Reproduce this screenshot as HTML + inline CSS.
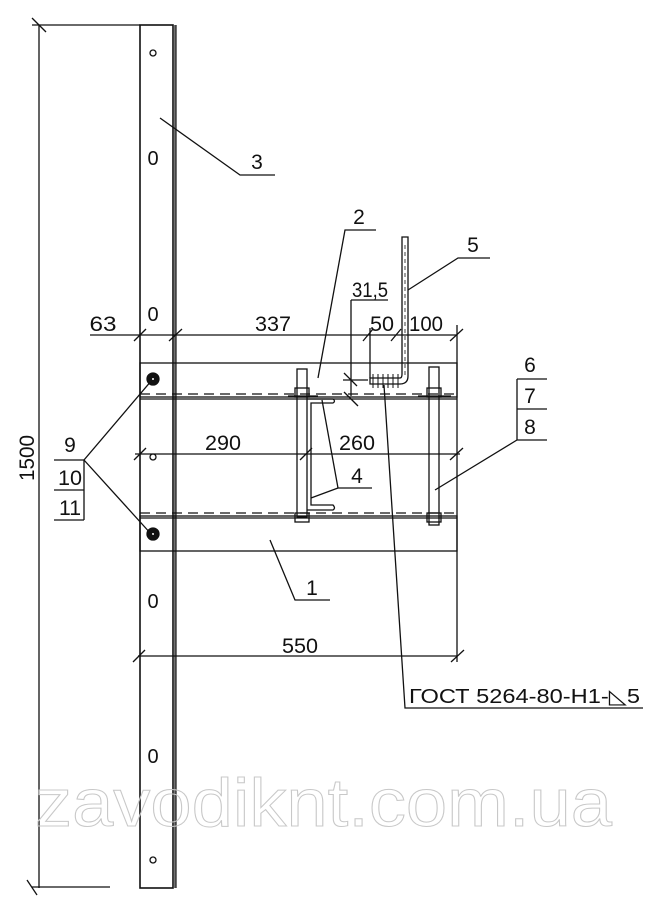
<!DOCTYPE html>
<html><head><meta charset="utf-8"><style>
html,body{margin:0;padding:0;background:#fff;}
svg{display:block;}
text{font-family:"Liberation Sans",sans-serif;fill:#111;}
</style></head><body>
<svg width="649" height="913" viewBox="0 0 649 913" xmlns="http://www.w3.org/2000/svg">
<g stroke="#111" stroke-width="1.3" fill="none">
<line x1="39" y1="25" x2="39" y2="888"/>
<line x1="32" y1="25" x2="140" y2="25"/>
<line x1="32" y1="887" x2="110" y2="887"/>
<line x1="32" y1="18" x2="46" y2="32"/>
<line x1="27" y1="880" x2="37" y2="895"/>
<rect x="140" y="25" width="33" height="863" stroke-width="1.6"/>
<line x1="175.5" y1="25" x2="175.5" y2="888" stroke-width="2.5" stroke="#444"/>
<circle cx="153" cy="53" r="3"/><circle cx="153" cy="457" r="3"/><circle cx="153" cy="860" r="3"/>
<rect x="140" y="363" width="317" height="34"/>
<line x1="140" y1="399" x2="457" y2="399"/>
<rect x="140" y="516" width="317" height="35"/>
<line x1="140" y1="518" x2="457" y2="518"/>
<g stroke-dasharray="10,6">
<line x1="140" y1="394" x2="457" y2="394"/>
<line x1="140" y1="513" x2="457" y2="513"/>
</g>
<circle cx="153" cy="379" r="6" fill="#111"/><circle cx="153" cy="534" r="6" fill="#111"/>
<circle cx="153" cy="379" r="1" fill="#fff" stroke="none"/><circle cx="153" cy="534" r="1" fill="#fff" stroke="none"/>
<rect x="297" y="369" width="10" height="148"/>
<rect x="295" y="388" width="14" height="9"/>
<rect x="295" y="513" width="14" height="9"/>
<line x1="288" y1="396" x2="318" y2="396"/>
<path d="M307 399 L333 399 Q336 401 333 403 L311 403 L311 505 L333 505 Q336 508 333 510 L307 510"/>
<rect x="429" y="367" width="10" height="158"/>
<rect x="427" y="388" width="14" height="9"/>
<rect x="427" y="513" width="14" height="9"/>
<line x1="418" y1="396" x2="451" y2="396"/>
<path d="M402 237 L408 237 L408 376 Q408 384 400 384 L370 384 L370 378 L400 378 Q402 378 402 374 Z"/>
<line x1="405" y1="245" x2="405" y2="375" stroke-dasharray="4,3" stroke-width="0.8"/>
<g stroke-width="1">
<line x1="373" y1="374" x2="373" y2="388"/><line x1="378" y1="374" x2="378" y2="388"/>
<line x1="383" y1="374" x2="383" y2="388"/><line x1="388" y1="374" x2="388" y2="388"/>
<line x1="393" y1="374" x2="393" y2="388"/><line x1="398" y1="374" x2="398" y2="388"/>
</g>
<line x1="90" y1="335" x2="457" y2="335"/>
<line x1="134" y1="341" x2="146" y2="329"/>
<line x1="169" y1="341" x2="182" y2="329"/>
<line x1="363" y1="341" x2="373" y2="329"/>
<line x1="391" y1="341" x2="401" y2="329"/>
<line x1="450" y1="341" x2="463" y2="329"/>
<line x1="370" y1="328" x2="370" y2="378"/>
<line x1="457" y1="325" x2="457" y2="662"/>
<line x1="351" y1="300" x2="388" y2="300"/>
<line x1="351" y1="300" x2="351" y2="396"/>
<line x1="343" y1="380" x2="368" y2="380"/>
<line x1="344" y1="373" x2="357" y2="386"/>
<line x1="344" y1="392" x2="358" y2="406"/>
<line x1="135" y1="454" x2="460" y2="454"/>
<line x1="134" y1="460" x2="146" y2="448"/>
<line x1="300" y1="460" x2="312" y2="448"/>
<line x1="450" y1="460" x2="463" y2="448"/>
<line x1="138" y1="656" x2="457" y2="656"/>
<line x1="133" y1="662" x2="145" y2="650"/>
<line x1="451" y1="662" x2="464" y2="650"/>
<polyline points="160,118 240,175 275,175"/>
<polyline points="318,378 345,230 376,230"/>
<polyline points="408,290 458,258 490,258"/>
<polyline points="435,490 517,440 547,440"/>
<line x1="517" y1="379" x2="547" y2="379"/><line x1="517" y1="409" x2="547" y2="409"/>
<line x1="517" y1="379" x2="517" y2="440"/>
<polyline points="152,380 84,460 152,535"/>
<line x1="54" y1="460" x2="84" y2="460"/><line x1="54" y1="490" x2="84" y2="490"/><line x1="54" y1="520" x2="84" y2="520"/>
<line x1="84" y1="460" x2="84" y2="520"/>
<polyline points="322,400 338,488 372,488"/>
<line x1="311" y1="498" x2="338" y2="488"/>
<polyline points="270,540 295,600 330,600"/>
<polyline points="384,385 405,708 643,708"/>
</g>
<g font-size="20" text-anchor="middle">
<text x="153" y="165">0</text><text x="153" y="321">0</text>
<text x="153" y="608">0</text><text x="153" y="763">0</text>
</g>
<g font-size="21" text-anchor="middle">
<text x="103" y="331" textLength="27" lengthAdjust="spacingAndGlyphs">63</text>
<text x="273" y="331" textLength="36" lengthAdjust="spacingAndGlyphs">337</text>
<text x="370" y="297" textLength="36" lengthAdjust="spacingAndGlyphs">31,5</text>
<text x="382" y="331" textLength="24" lengthAdjust="spacingAndGlyphs">50</text>
<text x="426" y="331" textLength="34" lengthAdjust="spacingAndGlyphs">100</text>
<text x="223" y="450" textLength="36" lengthAdjust="spacingAndGlyphs">290</text>
<text x="357" y="450" textLength="36" lengthAdjust="spacingAndGlyphs">260</text>
<text x="300" y="653" textLength="36" lengthAdjust="spacingAndGlyphs">550</text>
<text x="257" y="169">3</text>
<text x="359" y="224">2</text>
<text x="473" y="252">5</text>
<text x="530" y="372">6</text>
<text x="530" y="403">7</text>
<text x="530" y="434">8</text>
<text x="70" y="452">9</text>
<text x="70" y="485" textLength="24" lengthAdjust="spacingAndGlyphs">10</text>
<text x="70" y="515" textLength="22" lengthAdjust="spacingAndGlyphs">11</text>
<text x="357" y="483">4</text>
<text x="312" y="595">1</text>
<text transform="translate(34,458) rotate(-90)" textLength="46" lengthAdjust="spacingAndGlyphs">1500</text>
</g>
<text x="409" y="703" font-size="20" textLength="231" lengthAdjust="spacingAndGlyphs">ГОСТ 5264-80-Н1-◺5</text>
<text x="35" y="826" font-size="68" textLength="577" lengthAdjust="spacingAndGlyphs" stroke="#c8c8c8" stroke-width="1" style="fill:none">zavodiknt.com.ua</text>
</svg>
</body></html>
